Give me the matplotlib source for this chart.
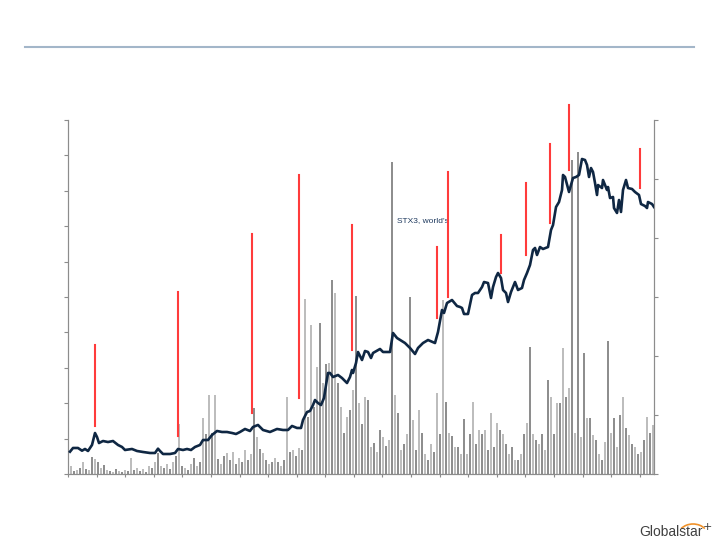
import matplotlib
matplotlib.use("Agg")
import matplotlib.pyplot as plt
from matplotlib.lines import Line2D
from matplotlib.patches import Arc

# Volume (left axis units), one bar per period
volume = [4.35, 0.23, 0.08, 0.11, 0.17, 0.34, 0.14, 0.11, 0.48, 0.42,
          0.34, 0.17, 0.25, 0.11, 0.08, 0.06, 0.14, 0.08, 0.06, 0.11,
          0.08, 0.45, 0.11, 0.17, 0.08, 0.14, 0.06, 0.23, 0.17, 0.34,
          0.59, 0.23, 0.17, 0.28, 0.14, 0.34, 0.51, 1.41, 0.23, 0.17,
          0.11, 0.28, 0.45, 0.23, 0.34, 1.58, 1.13, 2.23, 1.16, 2.23,
          0.42, 0.28, 0.51, 0.59, 0.40, 0.62, 0.28, 0.45, 0.34, 0.68,
          0.40, 0.56, 1.86, 1.05, 0.71, 0.59, 0.40, 0.28, 0.34, 0.45,
          0.34, 0.23, 0.40, 2.18, 0.62, 0.68, 0.51, 0.73, 0.68, 4.94,
          1.61, 4.21, 1.89, 3.02, 4.27, 2.57, 3.11, 3.14, 5.48, 5.11,
          2.57, 1.89, 1.16, 1.61, 1.81, 2.37, 5.03, 2.01, 1.41, 2.18,
          2.09, 0.76, 0.88, 0.62, 1.24, 1.05, 0.79, 0.96, 8.81, 2.23,
          1.72, 0.68, 0.85, 1.13, 5.00, 1.53, 0.68, 1.81, 1.16, 0.56,
          0.40, 0.85, 0.62, 2.29, 1.13, 4.92, 2.03, 1.16, 1.07, 0.76,
          0.76, 0.56, 1.55, 0.56, 1.13, 2.03, 0.85, 1.24, 1.13, 1.24,
          0.68, 1.72, 0.76, 1.44, 1.24, 1.13, 0.85, 0.56, 0.76, 0.40,
          0.40, 0.56, 1.13, 1.44, 3.59, 1.13, 0.96, 0.85, 1.13, 0.68,
          2.66, 2.18, 1.13, 2.01, 2.01, 3.56, 2.18, 2.43, 8.87, 1.16,
          9.10, 1.05, 3.42, 1.58, 1.58, 1.10, 0.96, 0.56, 0.40, 0.90,
          3.76, 1.16, 1.58, 0.76, 1.67, 2.18, 1.30, 1.10, 0.85, 0.76,
          0.56, 0.62, 0.96, 1.61, 1.16, 1.38]
periods = list(range(len(volume)))

# Share price (right axis units)
price_t = [0.67, 1.67, 3.33, 4.67, 5.67, 6.67, 8.0, 9.0, 9.67, 10.33,
           11.67, 13.33, 15.0, 16.67, 18.0, 19.0, 21.33, 23.0, 25.0, 27.33,
           29.0, 30.0, 30.67, 31.67, 34.0, 35.67, 36.67, 38.33, 39.67, 41.0,
           42.33, 44.0, 45.0, 46.67, 48.0, 49.67, 51.33, 53.0, 54.67, 56.0,
           57.33, 59.0, 60.67, 61.67, 63.33, 65.0, 67.33, 69.67, 71.67, 73.33,
           74.67, 76.33, 77.67, 78.33, 79.67, 80.67, 81.67, 82.33, 83.33, 84.33,
           85.33, 86.0, 86.67, 87.33, 88.33, 90.0, 91.33, 93.0, 94.0, 94.67,
           95.0, 96.0, 96.67, 98.0, 99.0, 100.0, 101.0, 101.67, 104.0, 105.0,
           107.33, 108.33, 109.67, 112.33, 114.0, 115.67, 116.67, 118.33, 120.0, 122.33,
           123.33, 124.67, 125.33, 126.33, 128.0, 129.67, 130.67, 131.33, 132.0, 133.33,
           134.67, 135.67, 136.67, 138.0, 138.67, 140.0, 141.0, 141.67, 142.67, 143.33,
           144.33, 145.0, 146.0, 146.67, 147.67, 149.0, 150.0, 151.33, 152.0, 153.0,
           154.0, 155.0, 155.67, 156.33, 157.33, 158.33, 160.0, 161.0, 161.67, 162.67,
           163.67, 164.67, 165.0, 165.67, 167.0, 168.33, 169.33, 170.33, 171.33, 172.33,
           173.0, 173.67, 174.33, 175.0, 175.67, 176.33, 176.67, 178.0, 178.33, 179.67,
           180.0, 180.67, 181.67, 182.0, 183.0, 183.67, 184.33, 185.0, 186.0, 186.67,
           188.0, 189.0, 190.33, 191.0, 192.33, 193.0, 193.33, 194.67, 195.33]
price = [0.378, 0.441, 0.441, 0.395, 0.424, 0.390, 0.492, 0.695, 0.627, 0.525,
         0.559, 0.542, 0.559, 0.492, 0.458, 0.407, 0.424, 0.390, 0.373, 0.356,
         0.356, 0.429, 0.390, 0.339, 0.339, 0.356, 0.424, 0.407, 0.424, 0.407,
         0.458, 0.492, 0.576, 0.576, 0.661, 0.729, 0.712, 0.712, 0.695, 0.678,
         0.712, 0.763, 0.729, 0.797, 0.831, 0.746, 0.712, 0.763, 0.746, 0.746,
         0.814, 0.780, 0.780, 0.915, 1.051, 1.068, 1.169, 1.254, 1.203, 1.169,
         1.288, 1.508, 1.712, 1.712, 1.644, 1.678, 1.627, 1.542, 1.644, 1.763,
         1.712, 1.881, 2.068, 1.932, 2.085, 2.068, 1.966, 2.051, 2.119, 2.068,
         2.068, 2.390, 2.305, 2.220, 2.136, 2.034, 2.136, 2.220, 2.271, 2.220,
         2.407, 2.780, 2.729, 2.898, 2.949, 2.847, 2.831, 2.814, 2.712, 2.712,
         3.034, 3.068, 3.068, 3.169, 3.254, 3.237, 2.983, 3.169, 3.339, 3.407,
         3.322, 3.119, 3.068, 2.915, 3.085, 3.254, 3.119, 3.153, 3.288, 3.407,
         3.542, 3.797, 3.831, 3.712, 3.847, 3.814, 3.847, 4.136, 4.220, 4.525,
         4.610, 4.814, 5.068, 5.034, 4.780, 5.017, 5.034, 5.068, 5.339, 5.322,
         5.237, 5.034, 5.186, 5.119, 4.932, 4.729, 4.898, 4.847, 4.983, 4.814,
         4.864, 4.678, 4.695, 4.508, 4.424, 4.644, 4.441, 4.814, 4.983, 4.847,
         4.831, 4.780, 4.729, 4.576, 4.542, 4.508, 4.610, 4.576, 4.525]

# Event markers (red lines) on the price axis
event_t = [9.0, 36.67, 61.33, 77.0, 94.67, 123.0, 126.67, 144.33, 152.67, 160.67, 167.0, 190.67]
event_low = [0.814, 0.644, 1.034, 1.288, 2.102, 2.644, 3.0, 3.407, 3.712, 4.254, 5.153, 4.847]
event_high = [2.186, 3.085, 4.068, 5.068, 4.220, 3.847, 5.119, 4.051, 4.932, 5.593, 6.254, 5.508]

fig = plt.figure(figsize=(7.2, 5.4), dpi=100)
ax = fig.add_axes([68 / 720, 1 - 474 / 540, 586 / 720, 354 / 540])
ax2 = ax.twinx()

# alternating light / dark grey like the original volume strip
bar_colors = ["#8e8e8e" if i % 2 == 0 else "#bdbdbd" for i in periods]
ax.bar(periods, volume, width=0.45, color=bar_colors, linewidth=0)
ax.set_ylim(0, 10)
ax.set_yticks(range(11))
ax.set_xlim(0, 195.33)
ax.set_xticks([i * 9.53 for i in range(21)])

ax2.plot(price_t, price, color="#0f2743", lw=1.9, zorder=3)
for t, lo, hi in zip(event_t, event_low, event_high):
    ax2.plot([t, t], [lo, hi], color="#ff3b3b", lw=1.5, clip_on=False, zorder=4)
ax2.text(109.5, 4.288, "STX3, world's", color="#1f3a5f", fontsize=6,
         family=["Liberation Sans", "DejaVu Sans"], va="center", ha="left")
ax2.set_ylim(0, 6)
ax2.set_yticks(range(7))

for a in (ax, ax2):
    a.spines["top"].set_visible(False)
    for s in ("left", "right", "bottom"):
        a.spines[s].set_color("#8c8c8c")
    a.tick_params(colors="#8c8c8c", length=3, labelleft=False, labelright=False, labelbottom=False)
ax.tick_params(axis="x", length=2)
ax.patch.set_visible(False)

# header rule
fig.add_artist(Line2D([25 / 720, 694 / 720], [1 - 47 / 540, 1 - 47 / 540],
                      color="#a3b6c9", lw=1.5))

# logo
fig.text(639 / 720, 1 - 532 / 540, "Globalstar", color="#404040", fontsize=10,
         family=["Liberation Sans", "DejaVu Sans"], va="center", ha="left")
fig.add_artist(Arc((693 / 720, 1 - 536 / 540), 30 / 720, 24 / 540, theta1=40, theta2=140,
                   color="#f0922a", lw=1.2))
fig.text(707 / 720, 1 - 527 / 540, "+", color="#3a3a3a", fontsize=8, va="center", ha="center")

fig.savefig("out.png", dpi=100)
